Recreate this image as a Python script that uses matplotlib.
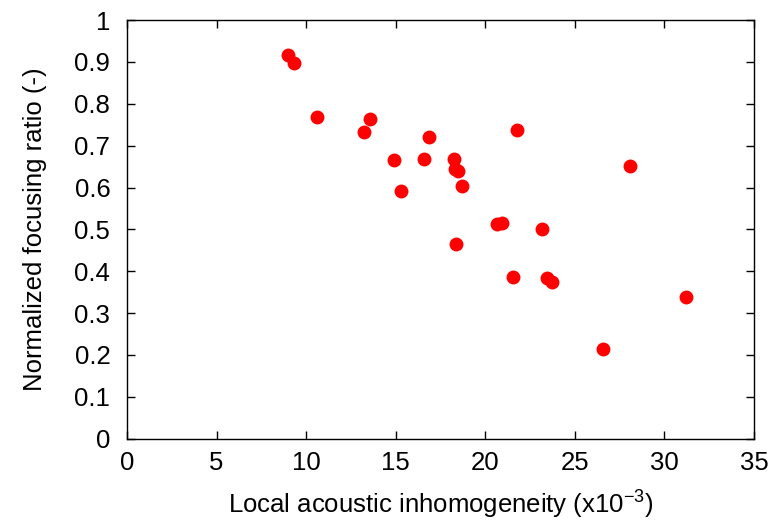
import matplotlib
matplotlib.use("Agg")
import matplotlib.pyplot as plt
import numpy as np

# local acoustic inhomogeneity (x1e-3) vs normalized focusing ratio
inhomogeneity = [9.00, 9.32, 10.62, 13.58, 13.21, 16.84, 14.92, 16.58, 18.24, 18.31,
                 18.49, 18.72, 15.30, 21.79, 20.64, 20.92, 23.18, 18.37, 28.08, 21.56,
                 23.43, 23.71, 31.20, 26.59]
focusing_ratio = [0.917, 0.898, 0.768, 0.764, 0.733, 0.720, 0.666, 0.668, 0.669, 0.644,
                  0.640, 0.604, 0.591, 0.737, 0.513, 0.516, 0.500, 0.465, 0.651, 0.386,
                  0.384, 0.375, 0.339, 0.214]

plt.rcParams['font.family'] = ['Liberation Sans', 'DejaVu Sans']
plt.rcParams['mathtext.fontset'] = 'custom'
plt.rcParams['mathtext.rm'] = 'Liberation Sans'
plt.rcParams['mathtext.default'] = 'regular'

fs = 18.5

fig = plt.figure(figsize=(7.71, 5.24), dpi=100)
ax = fig.add_axes([0.1647, 0.1628, 0.8133, 0.7988])

ax.plot(inhomogeneity, focusing_ratio, 'o', color='#ff0000', markersize=10, markeredgewidth=0)

ax.set_xlim(0, 35)
ax.set_ylim(0, 1)
ax.set_xticks(np.arange(0, 36, 5))
ax.set_yticks(np.arange(0, 1.01, 0.1))
ax.set_yticklabels(['0'] + ['%.1f' % v for v in np.arange(0.1, 0.95, 0.1)] + ['1'])
ax.tick_params(direction='in', length=6, width=1, top=True, right=True, labelsize=fs)
ax.tick_params(axis='x', pad=9)
ax.tick_params(axis='y', pad=12)
for s in ax.spines.values():
    s.set_linewidth(1)

ax.set_xlabel('Local acoustic inhomogeneity (x10$^{-3}$)', fontsize=fs, labelpad=10)
ax.set_ylabel('Normalized focusing ratio (-)', fontsize=fs, labelpad=20)

fig.savefig('out.png', dpi=100)
